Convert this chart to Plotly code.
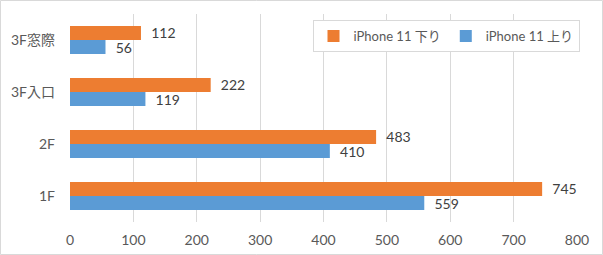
import plotly.graph_objects as go

categories = ["1F", "2F", "3F入口", "3F窓際"]
down_values = [745, 483, 222, 112]   # iPhone 11 下り
up_values = [559, 410, 119, 56]      # iPhone 11 上り
x_ticks = [0, 100, 200, 300, 400, 500, 600, 700, 800]

W, H = 603, 255
L, R, T, B = 70, 26, 14, 33
pw, ph = W - L - R, H - T - B

font_family = "Lato, Noto Sans CJK JP, sans-serif"

fig = go.Figure()
fig.add_trace(go.Bar(
    y=categories, x=up_values, orientation="h", name="iPhone 11 上り",
    marker=dict(color="#5B9BD5", line=dict(width=0)),
    texttemplate="  %{x}", textposition="outside",
    constraintext="none",
    textfont=dict(color="#404040", size=14, family=font_family),
    cliponaxis=False,
))
fig.add_trace(go.Bar(
    y=categories, x=down_values, orientation="h", name="iPhone 11 下り",
    marker=dict(color="#ED7D31", line=dict(width=0)),
    texttemplate="  %{x}", textposition="outside",
    constraintext="none",
    textfont=dict(color="#404040", size=14, family=font_family),
    cliponaxis=False,
))

fig.update_layout(
    width=W, height=H,
    margin=dict(l=L, r=R, t=T, b=B, pad=0, autoexpand=False),
    paper_bgcolor="white", plot_bgcolor="white",
    barmode="group", bargap=0.46, bargroupgap=0,
    font=dict(family=font_family, size=14, color="#595959"),
    showlegend=True,
    legend=dict(
        orientation="h", traceorder="reversed",
        x=(446 - L) / pw, y=1 - (20 - T) / ph, xanchor="center", yanchor="top",
        bgcolor="white", bordercolor="#D9D9D9", borderwidth=1,
        font=dict(size=13, color="#595959"),
        itemwidth=30,
    ),
    xaxis=dict(
        range=[0, 800], tickvals=x_ticks, ticktext=[str(t) for t in x_ticks],
        showgrid=True, gridcolor="#D9D9D9", gridwidth=1,
        zeroline=False, showline=False, ticks="", ticklen=0,
        tickfont=dict(size=14, color="#595959"),
        ticklabelstandoff=8,
        fixedrange=True,
    ),
    yaxis=dict(
        categoryorder="array", categoryarray=categories,
        showgrid=False, zeroline=False, showline=False, ticks="",
        tickfont=dict(size=14, color="#595959"),
        ticklabelstandoff=14,
        fixedrange=True,
    ),
    shapes=[dict(
        type="rect", xref="paper", yref="paper",
        x0=(0.5 - L) / pw, x1=(W - 0.5 - L) / pw,
        y0=1 - (H - 0.5 - T) / ph, y1=1 - (0.5 - T) / ph,
        line=dict(color="#D9D9D9", width=1), fillcolor="rgba(0,0,0,0)",
        layer="below",
    )],
)

fig.write_html("out.html")
